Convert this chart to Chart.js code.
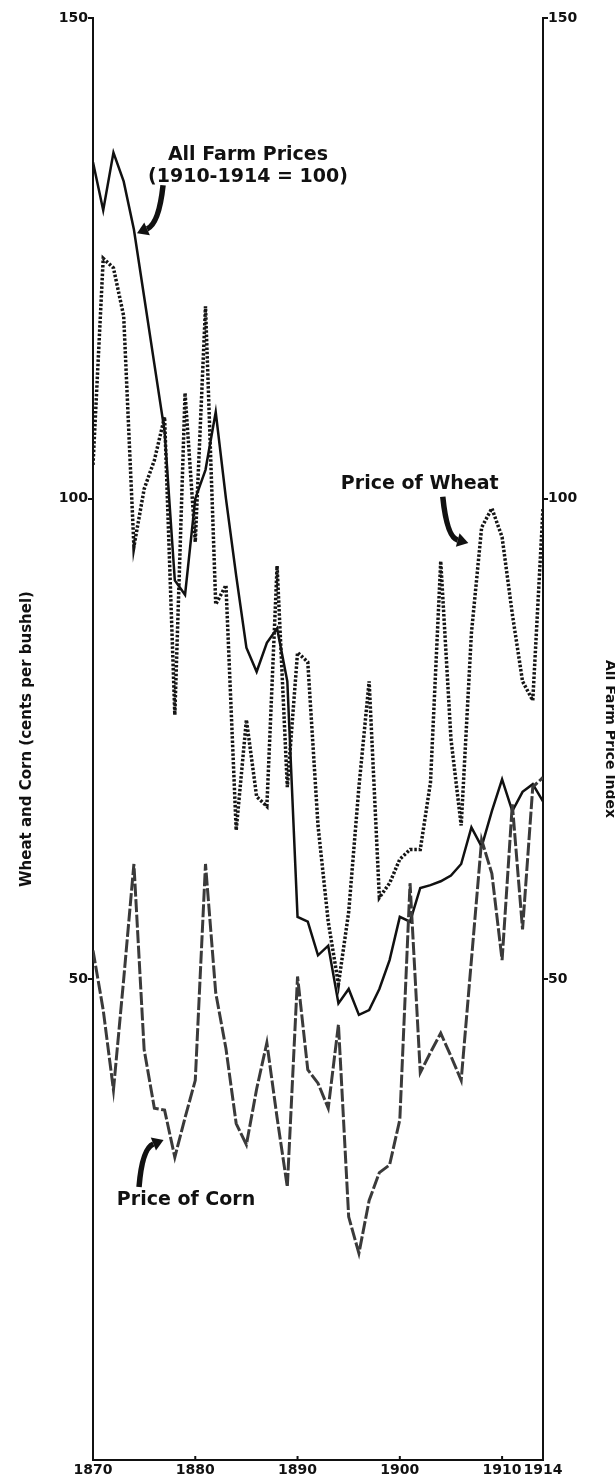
<!DOCTYPE html>
<html>
<head>
<meta charset="utf-8">
<script src="https://cdn.jsdelivr.net/npm/chart.js@4/dist/chart.umd.min.js"></script>
<style>
html,body{margin:0;padding:0;background:#fff;}
#wrap{width:615px;height:1479px;position:relative;}
</style>
</head>
<body>
<div id="wrap"><canvas id="c"></canvas></div>
<script>
// ---- data ----
const years = [1870,1871,1872,1873,1874,1875,1876,1877,1878,1879,
               1880,1881,1882,1883,1884,1885,1886,1887,1888,1889,
               1890,1891,1892,1893,1894,1895,1896,1897,1898,1899,
               1900,1901,1902,1903,1904,1905,1906,1907,1908,1909,
               1910,1911,1912,1913,1914];

// All farm prices index (1910-1914 = 100), solid line, right axis
const farmIndex = [135,130,136,133,128,121,114,107,91.5,90,
                   100,103,109,100,92,84.5,82,85,86.5,81,
                   56.5,56,52.5,53.5,47.5,49,46.3,46.8,49,52,
                   56.5,56,59.5,59.8,60.2,60.8,62,65.8,63.8,67.5,
                   70.8,67.5,69.5,70.3,68.5];

// Price of wheat (cents per bushel), dotted line
const wheat = [103.5,125,124,119,95,101,104,108.5,77.5,111,
               95.5,120,89,91,65.5,77,69,68,93,70,
               84,83,66,56,49.5,57,70,81,58.5,60,
               62.5,63.5,63.5,70.5,93.5,75,66,86,97,99,
               96,88,81,79,99];

// Price of corn (cents per bushel), dashed line
const corn = [53,46.8,38.5,50,62,42.7,36.6,36.4,31.5,35.6,
              39.5,62,48.6,42.8,35,32.8,38.6,43.4,35.6,28.4,
              50.3,40.6,39.2,36.6,45.3,25.3,21.5,27,29.9,30.7,
              35.4,60,40.3,42.4,44.4,42,39.5,52,64.5,61,
              52,68.2,55.2,70,71];

const xTickValues = [1870,1880,1890,1900,1910,1914];
const xInnerTicks = [1880,1890,1900,1910];
const yTickValues = [0,50,100,150];

// ---- annotations (positions in data coordinates) ----
const labels = [
  {text:'All Farm Prices', x:1885.15, y:135.7},
  {text:'(1910-1914 = 100)', x:1885.15, y:133.5},
  {text:'Price of Wheat', x:1901.95, y:101.5},
  {text:'Price of Corn', x:1879.1, y:27.0}
];
const arrows = [
  {tail:[1876.85,132.6], ctrl:[1876.45,128.6], tip:[1874.3,127.6]},
  {tail:[1904.2,100.2], ctrl:[1904.6,96.0], tip:[1906.7,95.4]},
  {tail:[1874.5,28.4], ctrl:[1874.8,32.4], tip:[1876.9,33.3]}
];

const FONT = '"DejaVu Sans", "Liberation Sans", sans-serif';
Chart.defaults.font.family = FONT;
Chart.defaults.font.weight = 'bold';
Chart.defaults.color = '#111';

const pts = arr => years.map((yr,i)=>({x:yr, y:arr[i]}));

const bgPlugin = {
  id:'bg',
  beforeDraw(chart){
    const c = chart.ctx;
    c.save(); c.fillStyle='#fff'; c.fillRect(0,0,chart.width,chart.height); c.restore();
  }
};

const annoPlugin = {
  id:'anno',
  afterDatasetsDraw(chart){
    const c = chart.ctx, xs = chart.scales.x, ys = chart.scales.y;
    const P = (a)=>[xs.getPixelForValue(a[0]), ys.getPixelForValue(a[1])];
    c.save();
    // inward ticks on x axis
    c.strokeStyle='#111'; c.lineWidth=2;
    const b = chart.chartArea.bottom;
    xInnerTicks.forEach(v=>{
      const px = xs.getPixelForValue(v);
      c.beginPath(); c.moveTo(px,b); c.lineTo(px,b-4); c.stroke();
    });
    // labels
    c.fillStyle='#111';
    c.font = 'bold 19px ' + FONT;
    c.textAlign='center'; c.textBaseline='middle';
    labels.forEach(l=>{
      c.fillText(l.text, xs.getPixelForValue(l.x), ys.getPixelForValue(l.y));
    });
    // arrows
    arrows.forEach(a=>{
      const t=P(a.tail), k=P(a.ctrl), h=P(a.tip);
      const ang = Math.atan2(h[1]-k[1], h[0]-k[0]);
      const hl = 11, hw = 7;
      const bx = h[0]-Math.cos(ang)*hl, by = h[1]-Math.sin(ang)*hl;
      c.strokeStyle='#111'; c.lineWidth=5.5; c.lineCap='butt';
      c.beginPath(); c.moveTo(t[0],t[1]); c.quadraticCurveTo(k[0],k[1],bx,by); c.stroke();
      c.beginPath();
      c.moveTo(h[0],h[1]);
      c.lineTo(bx+Math.sin(ang)*hw, by-Math.cos(ang)*hw);
      c.lineTo(bx-Math.sin(ang)*hw, by+Math.cos(ang)*hw);
      c.closePath(); c.fill();
    });
    c.restore();
  }
};

const yGridColor = ctx => (ctx.tick && ctx.tick.value === 0) ? 'rgba(0,0,0,0)' : '#111';

new Chart(document.getElementById('c'), {
  type:'line',
  data:{
    datasets:[
      {label:'Price of Corn', data:pts(corn), yAxisID:'y',
       borderColor:'#3a3a3a', borderWidth:3, borderDash:[13,2.5], pointRadius:0, tension:0, fill:false},
      {label:'Price of Wheat', data:pts(wheat), yAxisID:'y',
       borderColor:'#151515', borderWidth:3.5, borderDash:[2.5,1.8], pointRadius:0, tension:0, fill:false},
      {label:'All Farm Prices', data:pts(farmIndex), yAxisID:'y2',
       borderColor:'#111', borderWidth:2.5, pointRadius:0, tension:0, fill:false}
    ]
  },
  options:{
    responsive:true, maintainAspectRatio:false, animation:false,
    layout:{padding:{top:18,left:0,right:0,bottom:0}},
    plugins:{legend:{display:false}, tooltip:{enabled:false}},
    scales:{
      x:{
        type:'linear', min:1870, max:1914,
        afterBuildTicks:s=>{ s.ticks = xTickValues.map(v=>({value:v})); },
        afterFit:s=>{ s.height = 19; },
        grid:{display:false, drawTicks:false},
        border:{display:true, color:'#111', width:2},
        ticks:{autoSkip:false, maxRotation:0, minRotation:0, padding:2,
               font:{size:14, weight:'bold'}, color:'#111', callback:v=>String(v)}
      },
      y:{
        type:'linear', position:'left', min:0, max:150,
        afterBuildTicks:s=>{ s.ticks = yTickValues.map(v=>({value:v})); },
        afterFit:s=>{ s.width = 93; },
        grid:{display:true, drawOnChartArea:false, drawTicks:true, tickLength:5, lineWidth:2, color:yGridColor},
        border:{display:true, color:'#111', width:2},
        ticks:{padding:0, font:{size:14, weight:'bold'}, color:'#111',
               callback:v=> v===0 ? '' : String(v)},
        title:{display:true, text:'Wheat and Corn (cents per bushel)', color:'#111',
               font:{size:15, weight:'bold'}, padding:{top:18, bottom:0}}
      },
      y2:{
        type:'linear', position:'right', min:0, max:150,
        afterBuildTicks:s=>{ s.ticks = yTickValues.map(v=>({value:v})); },
        afterFit:s=>{ s.width = 72; },
        grid:{display:true, drawOnChartArea:false, drawTicks:true, tickLength:5, lineWidth:2, color:yGridColor},
        border:{display:true, color:'#111', width:2},
        ticks:{padding:0, font:{size:14, weight:'bold'}, color:'#111',
               callback:v=> v===0 ? '' : String(v)},
        title:{display:true, text:'All Farm Price Index', color:'#111',
               font:{size:14, weight:'bold'}, padding:{top:-3, bottom:0}}
      }
    }
  },
  plugins:[bgPlugin, annoPlugin]
});
</script>
</body>
</html>
